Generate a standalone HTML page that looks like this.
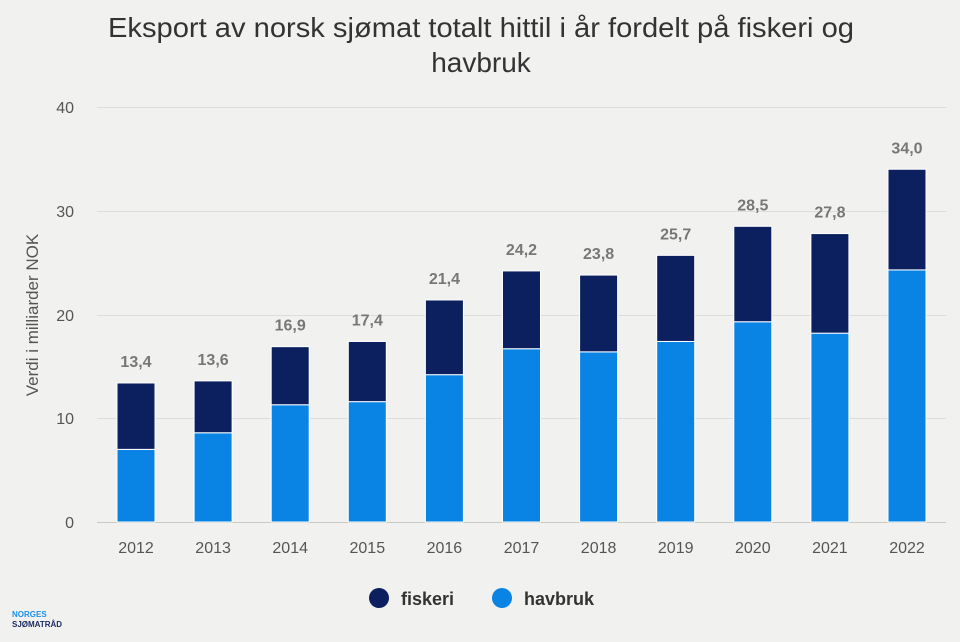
<!DOCTYPE html>
<html><head><meta charset="utf-8"><style>
body{margin:0;background:#f1f2f0;}
svg{display:block;font-family:"Liberation Sans",sans-serif;}
</style></head><body>
<svg width="960" height="642" viewBox="0 0 960 642" xmlns="http://www.w3.org/2000/svg">
<rect width="960" height="642" fill="#f1f2f0"/>
<text x="481" y="37" font-size="28" fill="#333" text-anchor="middle" textLength="746" lengthAdjust="spacingAndGlyphs">Eksport av norsk sjømat totalt hittil i år fordelt på fiskeri og</text>
<text x="481" y="72" font-size="28" fill="#333" text-anchor="middle">havbruk</text>
<g stroke="#dcdedb" stroke-width="1">
<line x1="97" x2="946" y1="107.5" y2="107.5"/>
<line x1="97" x2="946" y1="211.5" y2="211.5"/>
<line x1="97" x2="946" y1="315.5" y2="315.5"/>
<line x1="97" x2="946" y1="418.5" y2="418.5"/>
<line x1="97" x2="946" y1="522.5" y2="522.5" stroke="#c8cac6"/>
</g>
<g font-size="16" fill="#555" text-anchor="end">
<text x="74" y="113">40</text><text x="74" y="217">30</text><text x="74" y="321">20</text><text x="74" y="424">10</text><text x="74" y="528">0</text>
</g>
<text transform="translate(38,315) rotate(-90)" font-size="17" fill="#555" text-anchor="middle">Verdi i milliarder NOK</text>
<g id="bars"></g>
<g font-size="16" fill="#555" text-anchor="middle" id="xl"></g>
<g font-size="16" font-weight="bold" fill="#777" text-anchor="middle" id="vl"></g>
<script>
var d=[[2012,13.4,7.0],[2013,13.6,8.6],[2014,16.9,11.3],[2015,17.4,11.6],[2016,21.4,14.2],[2017,24.2,16.7],[2018,23.8,16.4],[2019,25.7,17.4],[2020,28.5,19.3],[2021,27.8,18.2],[2022,34.0,24.3]];
var ns="http://www.w3.org/2000/svg",b=document.getElementById('bars'),xl=document.getElementById('xl'),vl=document.getElementById('vl');
function el(p,t,a,tx){var e=document.createElementNS(ns,t);for(var k in a)e.setAttribute(k,a[k]);if(tx)e.textContent=tx;p.appendChild(e);}
var s=10.375;
d.forEach(function(r,i){var cx=136+i*77.1,x=cx-19,yt=522-r[1]*s,yh=522-r[2]*s;
el(b,'rect',{x:x,y:yh,width:38,height:522-yh,fill:'#0a84e4',stroke:'#fff','stroke-width':1});
el(b,'rect',{x:x,y:yt,width:38,height:yh-yt,fill:'#0c1f5e',stroke:'#fff','stroke-width':1});
el(xl,'text',{x:cx,y:553},String(r[0]));
el(vl,'text',{x:cx,y:yt-16},r[1].toFixed(1).replace('.',','));});
</script>
<circle cx="379" cy="598" r="10" fill="#0c1f5e"/>
<text x="401" y="605" font-size="18" font-weight="bold" fill="#333">fiskeri</text>
<circle cx="502" cy="598" r="10" fill="#0a84e4"/>
<text x="524" y="605" font-size="18" font-weight="bold" fill="#333">havbruk</text>
<text x="12" y="617" font-size="8" font-weight="bold" fill="#1f8fe8">NORGES</text>
<text x="12" y="627" font-size="8" font-weight="bold" fill="#1a2a5e">SJØMATRÅD</text>
</svg>
</body></html>
